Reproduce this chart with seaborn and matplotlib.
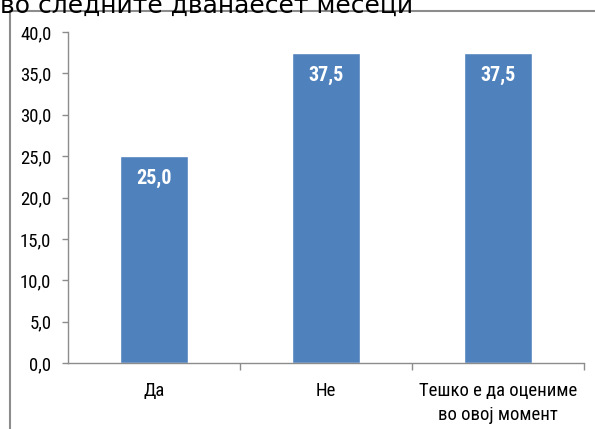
import matplotlib
matplotlib.use("Agg")
import matplotlib.pyplot as plt
from matplotlib.lines import Line2D
from matplotlib.ticker import FixedLocator
import seaborn as sns

categories = ["Да", "Не", "Тешко е да оцениме\nво овој момент"]
values = [25.0, 37.5, 37.5]
y_ticks = [0, 5, 10, 15, 20, 25, 30, 35, 40]
title_text = "во следните дванаесет месеци"

sns.set_theme(style="white")
narrow = ["Roboto Condensed", "DejaVu Sans"]
plt.rcParams["font.family"] = narrow

fig = plt.figure(figsize=(5.95, 4.29), dpi=100)
ax = fig.add_axes([68 / 595, 66 / 429, (584 - 68) / 595, (363 - 32) / 429])

sns.barplot(x=categories, y=values, color="#4F81BD", saturation=1, width=0.4, ax=ax)

ax.set_xlim(-0.5, 2.5)
ax.set_ylim(0, 40)
ax.set_yticks(y_ticks)
ax.set_yticklabels([f"{v:.1f}".replace(".", ",") for v in y_ticks])
ax.set_xlabel("")
ax.set_ylabel("")

axis_col = "#8c8c8c"
for s in ["top", "right"]:
    ax.spines[s].set_visible(False)
for s in ["left", "bottom"]:
    ax.spines[s].set_color(axis_col)
    ax.spines[s].set_linewidth(1.0)

ax.tick_params(axis="y", which="major", direction="out", length=4, width=1,
               color=axis_col, labelsize=13.5, labelcolor="black", pad=8, left=True)
ax.tick_params(axis="x", which="major", length=0, labelsize=13.5, labelcolor="black", pad=14)
ax.xaxis.set_minor_locator(FixedLocator([0.5, 1.5, 2.5]))
ax.tick_params(axis="x", which="minor", direction="out", length=5, width=1,
               color=axis_col, bottom=True)
for lbl in ax.get_xticklabels():
    lbl.set_linespacing(1.4)

for i, v in enumerate(values):
    ax.text(i, v - 2.7, f"{v:.1f}".replace(".", ","), ha="center", va="center",
            color="white", fontsize=14.5, fontweight="bold",
            family=["Roboto Condensed", "DejaVu Sans"])

fig.text(0.0, 1 - 13 / 429, title_text, ha="left", va="baseline",
         fontsize=18, color="black", family=["DejaVu Sans"])

border_col = "#8c8c8c"
fig.add_artist(Line2D([10 / 595, 1.0], [1 - 11 / 429, 1 - 11 / 429],
                      transform=fig.transFigure, color=border_col, linewidth=1.5))
fig.add_artist(Line2D([10 / 595, 10 / 595], [0.0, 1 - 11 / 429],
                      transform=fig.transFigure, color=border_col, linewidth=1.5))

fig.savefig("out.png", dpi=100)
